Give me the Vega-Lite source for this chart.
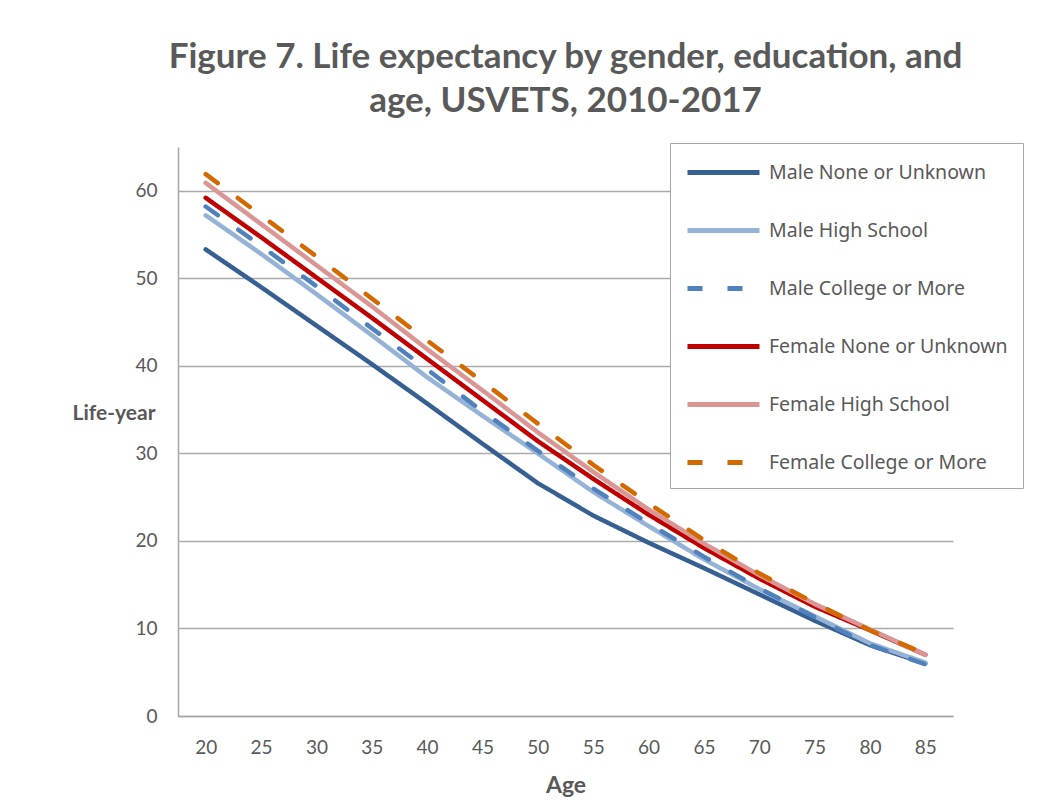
{
  "$schema": "https://vega.github.io/schema/vega-lite/v6.json",
  "autosize": "none",
  "width": 775,
  "height": 569,
  "padding": {"left": 178, "top": 147, "right": 90, "bottom": 93},
  "background": "white",
  "title": {
    "text": ["Figure 7. Life expectancy by gender, education, and", "age, USVETS, 2010-2017"],
    "font": "Lato, sans-serif",
    "fontSize": 35,
    "fontWeight": "bold",
    "color": "#595959",
    "anchor": "middle",
    "frame": "group",
    "lineHeight": 44,
    "offset": 24
  },
  "data": {
    "values": [
      {"age": 20, "series": "Male None or Unknown", "value": 53.3},
      {"age": 25, "series": "Male None or Unknown", "value": 49.0},
      {"age": 30, "series": "Male None or Unknown", "value": 44.6},
      {"age": 35, "series": "Male None or Unknown", "value": 40.2},
      {"age": 40, "series": "Male None or Unknown", "value": 35.7},
      {"age": 45, "series": "Male None or Unknown", "value": 31.1},
      {"age": 50, "series": "Male None or Unknown", "value": 26.6},
      {"age": 55, "series": "Male None or Unknown", "value": 22.9},
      {"age": 60, "series": "Male None or Unknown", "value": 19.8},
      {"age": 65, "series": "Male None or Unknown", "value": 16.9},
      {"age": 70, "series": "Male None or Unknown", "value": 13.9},
      {"age": 75, "series": "Male None or Unknown", "value": 10.9},
      {"age": 80, "series": "Male None or Unknown", "value": 8.1},
      {"age": 85, "series": "Male None or Unknown", "value": 6.0},
      {"age": 20, "series": "Male High School", "value": 57.2},
      {"age": 25, "series": "Male High School", "value": 52.8},
      {"age": 30, "series": "Male High School", "value": 48.2},
      {"age": 35, "series": "Male High School", "value": 43.5},
      {"age": 40, "series": "Male High School", "value": 38.7},
      {"age": 45, "series": "Male High School", "value": 34.3},
      {"age": 50, "series": "Male High School", "value": 30.0},
      {"age": 55, "series": "Male High School", "value": 25.6},
      {"age": 60, "series": "Male High School", "value": 21.7},
      {"age": 65, "series": "Male High School", "value": 17.9},
      {"age": 70, "series": "Male High School", "value": 14.5},
      {"age": 75, "series": "Male High School", "value": 11.4},
      {"age": 80, "series": "Male High School", "value": 8.3},
      {"age": 85, "series": "Male High School", "value": 6.1},
      {"age": 20, "series": "Male College or More", "value": 58.2},
      {"age": 25, "series": "Male College or More", "value": 53.7},
      {"age": 30, "series": "Male College or More", "value": 49.1},
      {"age": 35, "series": "Male College or More", "value": 44.3},
      {"age": 40, "series": "Male College or More", "value": 39.6},
      {"age": 45, "series": "Male College or More", "value": 34.8},
      {"age": 50, "series": "Male College or More", "value": 30.3},
      {"age": 55, "series": "Male College or More", "value": 26.0},
      {"age": 60, "series": "Male College or More", "value": 22.0},
      {"age": 65, "series": "Male College or More", "value": 18.2},
      {"age": 70, "series": "Male College or More", "value": 14.6},
      {"age": 75, "series": "Male College or More", "value": 11.3},
      {"age": 80, "series": "Male College or More", "value": 8.1},
      {"age": 85, "series": "Male College or More", "value": 5.9},
      {"age": 20, "series": "Female None or Unknown", "value": 59.2},
      {"age": 25, "series": "Female None or Unknown", "value": 54.7},
      {"age": 30, "series": "Female None or Unknown", "value": 50.1},
      {"age": 35, "series": "Female None or Unknown", "value": 45.5},
      {"age": 40, "series": "Female None or Unknown", "value": 40.8},
      {"age": 45, "series": "Female None or Unknown", "value": 36.1},
      {"age": 50, "series": "Female None or Unknown", "value": 31.4},
      {"age": 55, "series": "Female None or Unknown", "value": 27.1},
      {"age": 60, "series": "Female None or Unknown", "value": 23.0},
      {"age": 65, "series": "Female None or Unknown", "value": 19.2},
      {"age": 70, "series": "Female None or Unknown", "value": 15.7},
      {"age": 75, "series": "Female None or Unknown", "value": 12.5},
      {"age": 80, "series": "Female None or Unknown", "value": 9.8},
      {"age": 85, "series": "Female None or Unknown", "value": 7.0},
      {"age": 20, "series": "Female High School", "value": 60.9},
      {"age": 25, "series": "Female High School", "value": 56.2},
      {"age": 30, "series": "Female High School", "value": 51.5},
      {"age": 35, "series": "Female High School", "value": 46.8},
      {"age": 40, "series": "Female High School", "value": 41.9},
      {"age": 45, "series": "Female High School", "value": 37.2},
      {"age": 50, "series": "Female High School", "value": 32.4},
      {"age": 55, "series": "Female High School", "value": 27.9},
      {"age": 60, "series": "Female High School", "value": 23.6},
      {"age": 65, "series": "Female High School", "value": 19.7},
      {"age": 70, "series": "Female High School", "value": 16.1},
      {"age": 75, "series": "Female High School", "value": 12.8},
      {"age": 80, "series": "Female High School", "value": 9.9},
      {"age": 85, "series": "Female High School", "value": 7.0},
      {"age": 20, "series": "Female College or More", "value": 61.9},
      {"age": 25, "series": "Female College or More", "value": 57.2},
      {"age": 30, "series": "Female College or More", "value": 52.5},
      {"age": 35, "series": "Female College or More", "value": 47.7},
      {"age": 40, "series": "Female College or More", "value": 42.9},
      {"age": 45, "series": "Female College or More", "value": 38.2},
      {"age": 50, "series": "Female College or More", "value": 33.4},
      {"age": 55, "series": "Female College or More", "value": 28.7},
      {"age": 60, "series": "Female College or More", "value": 24.3},
      {"age": 65, "series": "Female College or More", "value": 20.1},
      {"age": 70, "series": "Female College or More", "value": 16.3},
      {"age": 75, "series": "Female College or More", "value": 12.9},
      {"age": 80, "series": "Female College or More", "value": 9.8},
      {"age": 85, "series": "Female College or More", "value": 7.1}
    ]
  },
  "mark": {"type": "line", "strokeWidth": 4.5, "strokeCap": "round", "strokeJoin": "round"},
  "encoding": {
    "x": {
      "field": "age",
      "type": "ordinal",
      "scale": {"type": "point", "padding": 0.5},
      "axis": {
        "title": "Age",
        "labelAngle": 0,
        "labelFont": "Lato, sans-serif",
        "labelFontSize": 19,
        "labelColor": "#595959",
        "labelPadding": 22,
        "ticks": false,
        "domainColor": "#A6A6A6",
        "domainWidth": 1.5,
        "grid": false,
        "titleFont": "Lato, sans-serif",
        "titleFontSize": 23,
        "titleFontWeight": "bold",
        "titleColor": "#595959",
        "titleBaseline": "middle",
        "titleY": 69
      }
    },
    "y": {
      "field": "value",
      "type": "quantitative",
      "scale": {"domain": [0, 65], "nice": false},
      "axis": {
        "title": "Life-year",
        "values": [0, 10, 20, 30, 40, 50, 60],
        "labelFont": "Lato, sans-serif",
        "labelFontSize": 19,
        "labelColor": "#595959",
        "labelPadding": 21,
        "ticks": false,
        "domainColor": "#A6A6A6",
        "domainWidth": 1.5,
        "gridColor": "#AAAAAA",
        "gridWidth": 1.5,
        "titleFont": "Lato, sans-serif",
        "titleFontSize": 21,
        "titleFontWeight": "bold",
        "titleColor": "#595959",
        "titleAngle": 0,
        "titleAlign": "left",
        "titleBaseline": "middle",
        "titleX": -106,
        "titleY": 266
      }
    },
    "color": {
      "field": "series",
      "type": "nominal",
      "scale": {
        "domain": ["Male None or Unknown", "Male High School", "Male College or More", "Female None or Unknown", "Female High School", "Female College or More"],
        "range": ["#366092", "#95B3D7", "#4F81BD", "#C00000", "#DA9694", "#D26A00"]
      },
      "legend": {
        "title": null,
        "orient": "none",
        "legendX": 492,
        "legendY": -4,
        "fillColor": "white",
        "strokeColor": "#A6A6A6",
        "padding": 15,
        "symbolType": "M-1,0H5",
        "symbolSize": 576,
        "symbolStrokeWidth": 5,
        "labelFont": "Noto Sans, sans-serif",
        "labelFontSize": 19.5,
        "labelColor": "#595959",
        "labelOffset": 55,
        "rowPadding": 33,
        "labelLimit": 400
      }
    },
    "strokeDash": {
      "field": "series",
      "type": "nominal",
      "scale": {
        "domain": ["Male None or Unknown", "Male High School", "Male College or More", "Female None or Unknown", "Female High School", "Female College or More"],
        "range": [[1, 0], [1, 0], [15, 25], [1, 0], [1, 0], [15, 25]]
      },
      "legend": null
    }
  },
  "config": {
    "view": {"stroke": null}
  }
}
